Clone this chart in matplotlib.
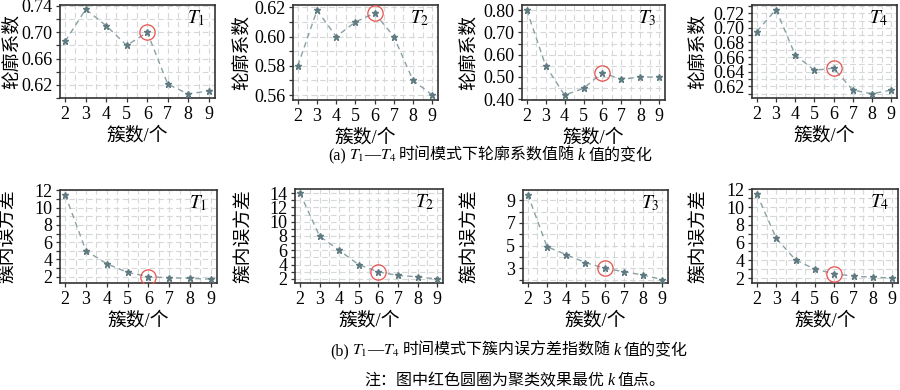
import matplotlib
matplotlib.use('Agg')
import matplotlib.pyplot as plt
from matplotlib.ticker import FixedLocator, MultipleLocator
import numpy as np

plt.rcParams['font.family'] = ['Liberation Serif', 'Noto Sans CJK SC']
plt.rcParams['mathtext.fontset'] = 'stix'
plt.rcParams['axes.unicode_minus'] = False

# 簇数
k_vals = [2, 3, 4, 5, 6, 7, 8, 9]
best_k = 6

# (a) 轮廓系数
sil_t1 = [0.686, 0.735, 0.710, 0.680, 0.700, 0.621, 0.606, 0.611]
sil_t2 = [0.580, 0.618, 0.600, 0.610, 0.616, 0.600, 0.570, 0.560]
sil_t3 = [0.800, 0.550, 0.419, 0.449, 0.520, 0.489, 0.500, 0.500]
sil_t4 = [0.695, 0.725, 0.663, 0.642, 0.645, 0.615, 0.610, 0.615]

# (b) 簇内误方差
sse_t1 = [11.5, 5.0, 3.5, 2.5, 2.0, 1.88, 1.8, 1.72]
sse_t2 = [14.0, 8.0, 6.0, 4.0, 3.0, 2.5, 2.3, 2.0]
sse_t3 = [9.5, 4.9, 4.2, 3.5, 3.0, 2.7, 2.4, 2.0]
sse_t4 = [11.5, 6.5, 4.05, 3.0, 2.5, 2.2, 2.1, 2.0]

# y 轴刻度
sil_ticks = [[0.62, 0.66, 0.70, 0.74],
             [0.56, 0.58, 0.60, 0.62],
             [0.40, 0.50, 0.60, 0.70, 0.80],
             [0.62, 0.64, 0.66, 0.68, 0.70, 0.72]]
sse_ticks = [[2, 4, 6, 8, 10, 12],
             [2, 4, 6, 8, 10, 12, 14],
             [3, 5, 7, 9],
             [2, 4, 6, 8, 10, 12]]

panel_names = ['T_1', 'T_2', 'T_3', 'T_4']

fig = plt.figure(figsize=(9, 3.9), dpi=100)
W, H = 900, 390

LINE_C = '#8aa0a5'
MARK_C = '#5f7b81'
RED_C = '#e8504c'


def px_axes(x0, x1, ytop, ybot):
    return fig.add_axes([x0 / W, 1 - ybot / H, (x1 - x0) / W, (ybot - ytop) / H])


def draw_panel(ax, vals, name, ylabel, ylim, ticks, ylab_x, fmt):
    ax.plot(k_vals, vals, ls=(0, (4, 3)), lw=1.0, color=LINE_C,
            marker='*', ms=5, mfc=MARK_C, mec=MARK_C, zorder=3)
    i = k_vals.index(best_k)
    ax.plot([best_k], [vals[i]], marker='o', ms=11, mfc='none',
            mec=RED_C, mew=0.9, ls='none', zorder=4)
    ax.set_xlim(1.75, 9.3)
    ax.set_ylim(*ylim)
    ax.xaxis.set_major_locator(MultipleLocator(1))
    ax.xaxis.set_minor_locator(MultipleLocator(0.5))
    step = ticks[1] - ticks[0]
    minor = np.arange(ticks[0] - step / 2, ticks[-1] + step, step / 2)
    ax.yaxis.set_major_locator(FixedLocator(ticks))
    ax.yaxis.set_minor_locator(FixedLocator(minor))
    ax.yaxis.set_major_formatter(fmt)
    ax.grid(True, which='both', ls=(0, (5, 3)), lw=0.8, color='#d4d8d8', zorder=0)
    ax.tick_params(axis='both', which='major', direction='out', length=3,
                   width=0.9, labelsize=13, pad=2.5, color='#333333')
    ax.tick_params(axis='y', which='minor', direction='out', length=3,
                   width=0.9, color='#333333')
    ax.tick_params(axis='x', which='minor', length=0)
    for s in ax.spines.values():
        s.set_color('#333333')
        s.set_linewidth(1.2)
    ax.set_ylabel(ylabel, fontsize=13.5, va='center')
    ax.yaxis.set_label_coords(ylab_x, 0.5)
    ax.set_xlabel('簇数/个', fontsize=13.5, va='center')
    ax.xaxis.set_label_coords(0.5, -0.40)
    ax.text(0.94, 0.86, '$' + name + '$', transform=ax.transAxes,
            fontsize=14, ha='right', va='center')


f2 = lambda v, p: f'{v:.2f}'
f0 = lambda v, p: f'{v:.0f}'

top = [
    (60, 215, 5, 98, sil_t1, (0.600, 0.7415), -0.31),
    (293, 438, 5, 100, sil_t2, (0.5566, 0.6216), -0.35),
    (522, 665, 5, 100, sil_t3, (0.397, 0.8224), -0.37),
    (752, 897, 5, 98, sil_t4, (0.6042, 0.7312), -0.37),
]
bot = [
    (60, 217, 190, 283, sse_t1, (1.27, 12.05), -0.335),
    (295, 443, 189, 283, sse_t2, (1.44, 14.56), -0.35),
    (523, 668, 190, 283, sse_t3, (1.7, 9.9), -0.366),
    (752, 898, 189, 283, sse_t4, (1.44, 12.05), -0.365),
]

for n, (x0, x1, yt, yb, vals, yl, lx) in enumerate(top):
    ax = px_axes(x0, x1, yt, yb)
    draw_panel(ax, vals, panel_names[n], '轮廓系数', yl, sil_ticks[n], lx, f2)

for n, (x0, x1, yt, yb, vals, yl, lx) in enumerate(bot):
    ax = px_axes(x0, x1, yt, yb)
    draw_panel(ax, vals, panel_names[n], '簇内误方差', yl, sse_ticks[n], lx, f0)

# 图注：分段排版（数学斜体与中文混排）
fig.canvas.draw()
renderer = fig.canvas.get_renderer()


def caption(cx, y_base, parts, size=11.5):
    texts = []
    for s, kind in parts:
        if kind == 'it':
            t = fig.text(0, 1 - y_base / H, s, fontsize=size, va='baseline',
                         style='italic', family='Liberation Serif')
        else:
            t = fig.text(0, 1 - y_base / H, s, fontsize=size, va='baseline')
        texts.append(t)
    widths = [t.get_window_extent(renderer).width for t in texts]
    total = sum(widths) + 3 * (len(texts) - 1)
    x = cx - total / 2
    for t, w in zip(texts, widths):
        t.set_x(x / W)
        x += w + 3


caption(490, 160, [('(a)', 'txt'), ('$T_1$—$T_4$', 'math'),
                   ('时间模式下轮廓系数值随', 'txt'), ('k', 'it'),
                   ('值的变化', 'txt')])
caption(509, 355, [('(b)', 'txt'), ('$T_1$—$T_4$', 'math'),
                   ('时间模式下簇内误方差指数随', 'txt'), ('k', 'it'),
                   ('值的变化', 'txt')])
caption(515, 385, [('注：图中红色圆圈为聚类效果最优', 'txt'), ('k', 'it'),
                   ('值点。', 'txt')])

fig.savefig('out.png', dpi=100)
